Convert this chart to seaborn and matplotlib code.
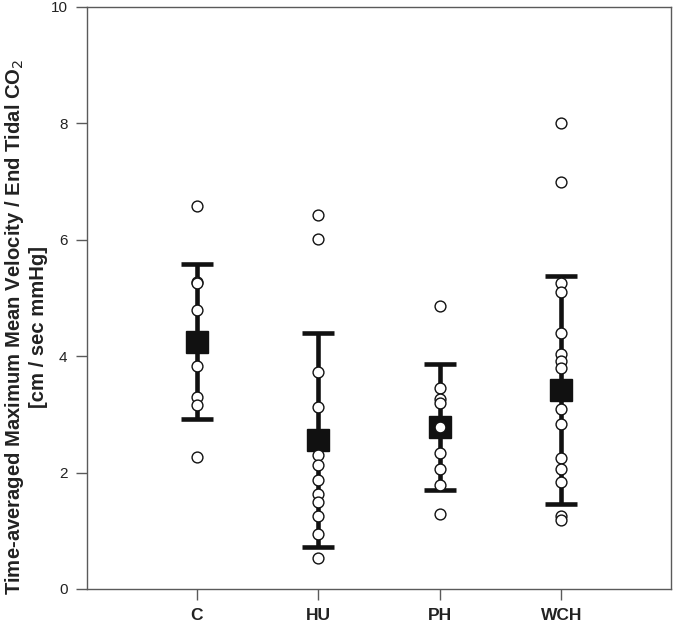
import numpy as np
import pandas as pd
import matplotlib
matplotlib.use("Agg")
import matplotlib.pyplot as plt
import seaborn as sns

groups = ["C", "HU", "PH", "WCH"]

c_vals = [6.58, 5.28, 5.25, 4.79, 3.84, 3.30, 3.16, 2.26]
hu_vals = [6.42, 6.02, 3.73, 3.12, 2.30, 2.13, 1.87, 1.64, 1.49, 1.25, 0.94, 0.53]
ph_vals = [4.86, 3.45, 3.26, 3.20, 2.78, 2.33, 2.06, 1.78, 1.29]
wch_vals = [8.01, 7.00, 5.25, 5.11, 4.39, 4.03, 3.92, 3.80, 3.09, 2.84,
            2.25, 2.06, 1.84, 1.25, 1.19]

means = [4.25, 2.56, 2.78, 3.42]
sds = [1.33, 1.83, 1.08, 1.96]

yticks = [0, 2, 4, 6, 8, 10]

sns.set_theme(style="white")
plt.rcParams["font.family"] = ["Liberation Sans", "DejaVu Sans"]

df = pd.DataFrame({
    "group": (["C"] * len(c_vals) + ["HU"] * len(hu_vals)
              + ["PH"] * len(ph_vals) + ["WCH"] * len(wch_vals)),
    "value": c_vals + hu_vals + ph_vals + wch_vals,
})

fig = plt.figure(figsize=(6.73, 6.24), dpi=100)
ax = fig.add_axes([0.1293, 0.0561, 0.9970 - 0.1293, 0.9888 - 0.0561])

pos = np.arange(len(groups))
ax.errorbar(pos, means, yerr=sds, fmt="none", ecolor="#111111",
            elinewidth=3.3, capsize=11.5, capthick=3.3, zorder=2)
ax.plot(pos, means, linestyle="none", marker="s", markersize=15.5,
        color="#111111", zorder=3)

sns.stripplot(data=df, x="group", y="value", order=groups, jitter=False,
              color="white", edgecolor="#111111", linewidth=1.0, size=7.8,
              ax=ax, zorder=4)

ax.set_xlim(-0.9, 3.9)
ax.set_ylim(0, 10)
ax.set_yticks(yticks)
ax.set_yticklabels([str(t) for t in yticks], fontsize=11, color="#222222")
ax.set_xticks(pos)
ax.set_xticklabels(groups, fontsize=12.5, fontweight="bold", color="#222222")
ax.set_xlabel("")
ax.set_ylabel("Time-averaged Maximum Mean Velocity / End Tidal CO$_2$\n[cm / sec mmHg]",
              fontsize=14.6, fontweight="bold", color="#222222", linespacing=1.2)
ax.yaxis.set_label_coords(-0.066, 0.45)

for s in ax.spines.values():
    s.set_visible(True)
    s.set_color("#5a5a5a")
    s.set_linewidth(1.0)

ax.tick_params(axis="both", direction="out", length=8, width=1.0, color="#5a5a5a",
               left=True, bottom=True)
ax.tick_params(axis="y", pad=6)
ax.tick_params(axis="x", pad=6)

fig.savefig("out.png", dpi=100)
